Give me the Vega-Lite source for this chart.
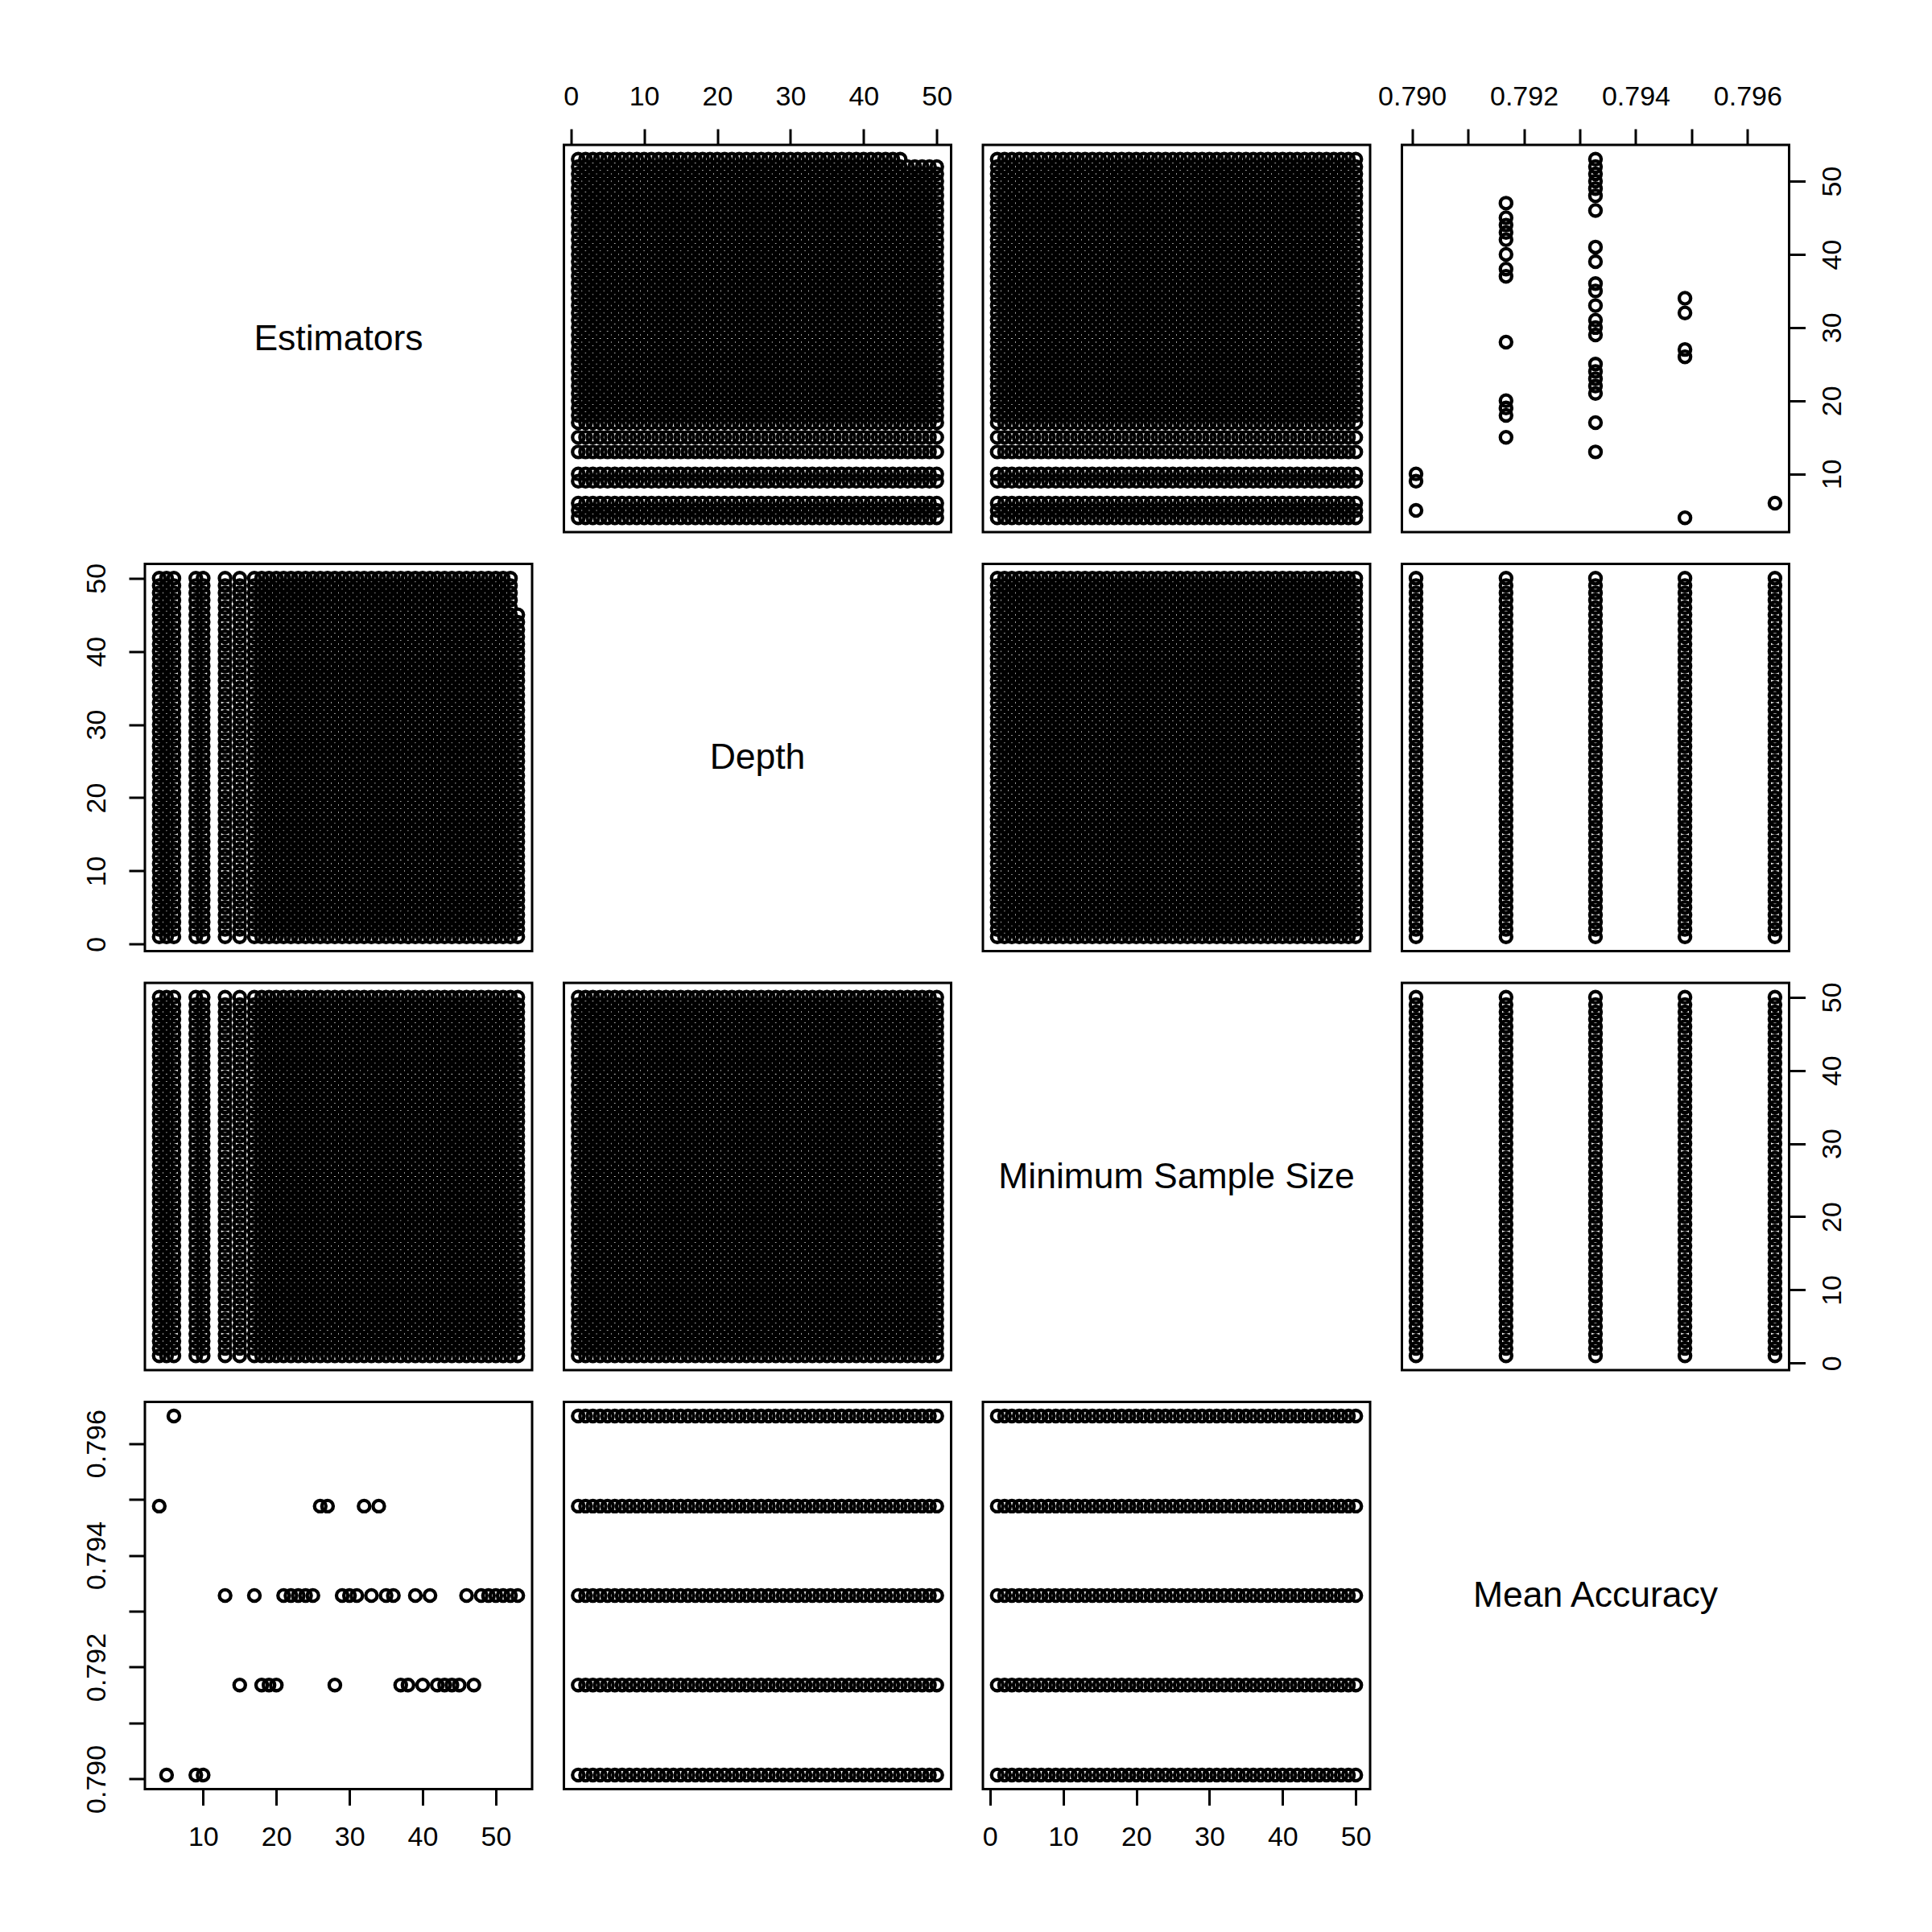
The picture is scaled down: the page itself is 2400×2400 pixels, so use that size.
{
"$schema": "https://vega.github.io/schema/vega-lite/v6.json",
"background": "white",
"padding": {"left": 101, "top": 101, "right": 5, "bottom": 5},
"columns": 4,
"spacing": 39.5,
"bounds": "flush",
"datasets": {
"est": [
{"Estimators":4,"MeanAccuracy":0.79488,"k":1},{"Estimators":5,"MeanAccuracy":0.79007,"k":1},{"Estimators":6,"MeanAccuracy":0.79649,"k":1},{"Estimators":9,"MeanAccuracy":0.79007,"k":1},{"Estimators":10,"MeanAccuracy":0.79007,"k":1},
{"Estimators":13,"MeanAccuracy":0.79328,"k":1},{"Estimators":15,"MeanAccuracy":0.79168,"k":1},{"Estimators":17,"MeanAccuracy":0.79328,"k":1},{"Estimators":18,"MeanAccuracy":0.79168,"k":1},{"Estimators":19,"MeanAccuracy":0.79168,"k":1},
{"Estimators":20,"MeanAccuracy":0.79168,"k":1},{"Estimators":21,"MeanAccuracy":0.79328,"k":1},{"Estimators":22,"MeanAccuracy":0.79328,"k":1},{"Estimators":23,"MeanAccuracy":0.79328,"k":1},{"Estimators":24,"MeanAccuracy":0.79328,"k":1},
{"Estimators":25,"MeanAccuracy":0.79328,"k":1},{"Estimators":26,"MeanAccuracy":0.79488,"k":1},{"Estimators":27,"MeanAccuracy":0.79488,"k":1},{"Estimators":28,"MeanAccuracy":0.79168,"k":1},{"Estimators":29,"MeanAccuracy":0.79328,"k":1},
{"Estimators":30,"MeanAccuracy":0.79328,"k":1},{"Estimators":31,"MeanAccuracy":0.79328,"k":1},{"Estimators":32,"MeanAccuracy":0.79488,"k":1},{"Estimators":33,"MeanAccuracy":0.79328,"k":1},{"Estimators":34,"MeanAccuracy":0.79488,"k":1},
{"Estimators":35,"MeanAccuracy":0.79328,"k":1},{"Estimators":36,"MeanAccuracy":0.79328,"k":1},{"Estimators":37,"MeanAccuracy":0.79168,"k":1},{"Estimators":38,"MeanAccuracy":0.79168,"k":1},{"Estimators":39,"MeanAccuracy":0.79328,"k":1},
{"Estimators":40,"MeanAccuracy":0.79168,"k":1},{"Estimators":41,"MeanAccuracy":0.79328,"k":1},{"Estimators":42,"MeanAccuracy":0.79168,"k":1},{"Estimators":43,"MeanAccuracy":0.79168,"k":1},{"Estimators":44,"MeanAccuracy":0.79168,"k":1},
{"Estimators":45,"MeanAccuracy":0.79168,"k":1},{"Estimators":46,"MeanAccuracy":0.79328,"k":1},{"Estimators":47,"MeanAccuracy":0.79168,"k":1},{"Estimators":48,"MeanAccuracy":0.79328,"k":1},{"Estimators":49,"MeanAccuracy":0.79328,"k":1},
{"Estimators":50,"MeanAccuracy":0.79328,"k":1},{"Estimators":51,"MeanAccuracy":0.79328,"k":1},{"Estimators":52,"MeanAccuracy":0.79328,"k":1},{"Estimators":53,"MeanAccuracy":0.79328,"k":2}
],
"acc": [
{"MeanAccuracy":0.79007,"k":1},{"MeanAccuracy":0.79168,"k":1},{"MeanAccuracy":0.79328,"k":1},{"MeanAccuracy":0.79488,"k":1},{"MeanAccuracy":0.79649,"k":1}
],
"grid": [
{"k":1,"Depth":[1,2,3,4,5,6,7,8,9,10,11,12,13,14,15,16,17,18,19,20,21,22,23,24,25,26,27,28,29,30,31,32,33,34,35,36,37,38,39,40,41,42,43,44,45,46,47,48,49,50],"MinSampleSize":[1,2,3,4,5,6,7,8,9,10,11,12,13,14,15,16,17,18,19,20,21,22,23,24,25,26,27,28,29,30,31,32,33,34,35,36,37,38,39,40,41,42,43,44,45,46,47,48,49,50]},
{"k":2,"Depth":[1,2,3,4,5,6,7,8,9,10,11,12,13,14,15,16,17,18,19,20,21,22,23,24,25,26,27,28,29,30,31,32,33,34,35,36,37,38,39,40,41,42,43,44,45],"MinSampleSize":[1,2,3,4,5,6,7,8,9,10,11,12,13,14,15,16,17,18,19,20,21,22,23,24,25,26,27,28,29,30,31,32,33,34,35,36,37,38,39,40,41,42,43,44,45,46,47,48,49,50]}
]
},
"config": {
"view": {"stroke": "black", "strokeWidth": 3},
"point": {"shape": "circle", "filled": false, "color": "black", "strokeWidth": 4.3, "size": 200, "opacity": 1},
"text": {"font": "Liberation Sans", "fontSize": 44.5, "color": "black", "dy": 1},
"axis": {"domain": false, "grid": false, "ticks": true, "tickColor": "black", "tickWidth": 3, "tickSize": 20, "labelFont": "Liberation Sans", "labelFontSize": 34, "labelColor": "black", "labelFlush": false, "labelOverlap": false},
"axisTop": {"labelPadding": 23},
"axisBottom": {"labelPadding": 23},
"axisLeft": {"labelAngle": 270, "labelAlign": "center", "labelBaseline": "bottom", "labelPadding": 23},
"axisRight": {"labelAngle": 270, "labelAlign": "center", "labelBaseline": "top", "labelPadding": 17}
},
"concat": [
{"width": 481, "height": 481, "data": {"values": [{"label": "Estimators"}]}, "mark": "text", "encoding": {"text": {"field": "label"}}},
{"width": 481, "height": 481, "data": {"name": "est"},
 "transform": [{"lookup": "k", "from": {"data": {"name": "grid"}, "key": "k", "fields": ["Depth"]}}, {"flatten": ["Depth"]}],
 "mark": "point",
 "encoding": {
  "x": {"field": "Depth", "type": "quantitative", "title": null, "scale": {"domain": [-0.96, 51.96], "nice": false, "zero": false}, "axis": {"orient": "top", "values": [0,10,20,30,40,50]}},
  "y": {"field": "Estimators", "type": "quantitative", "title": null, "scale": {"domain": [2.04, 54.96], "nice": false, "zero": false}, "axis": null}}},
{"width": 481, "height": 481, "data": {"name": "est"},
 "transform": [{"lookup": "k", "from": {"data": {"name": "grid"}, "key": "k", "fields": ["MinSampleSize"]}}, {"flatten": ["MinSampleSize"]}],
 "mark": "point",
 "encoding": {
  "x": {"field": "MinSampleSize", "type": "quantitative", "title": null, "scale": {"domain": [-0.96, 51.96], "nice": false, "zero": false}, "axis": null},
  "y": {"field": "Estimators", "type": "quantitative", "title": null, "scale": {"domain": [2.04, 54.96], "nice": false, "zero": false}, "axis": null}}},
{"width": 481, "height": 481, "data": {"name": "est"},
 "mark": "point",
 "encoding": {
  "x": {"field": "MeanAccuracy", "type": "quantitative", "title": null, "scale": {"domain": [0.789818, 0.796743], "nice": false, "zero": false}, "axis": {"orient": "top", "values": [0.790,0.791,0.792,0.793,0.794,0.795,0.796], "format": ".3f", "labelExpr": "round(datum.value*1000) % 2 === 0 ? datum.label : ''"}},
  "y": {"field": "Estimators", "type": "quantitative", "title": null, "scale": {"domain": [2.04, 54.96], "nice": false, "zero": false}, "axis": {"orient": "right", "values": [10,20,30,40,50]}}}},

{"width": 481, "height": 481, "data": {"name": "est"},
 "transform": [{"lookup": "k", "from": {"data": {"name": "grid"}, "key": "k", "fields": ["Depth"]}}, {"flatten": ["Depth"]}],
 "mark": "point",
 "encoding": {
  "x": {"field": "Estimators", "type": "quantitative", "title": null, "scale": {"domain": [2.04, 54.96], "nice": false, "zero": false}, "axis": null},
  "y": {"field": "Depth", "type": "quantitative", "title": null, "scale": {"domain": [-0.96, 51.96], "nice": false, "zero": false}, "axis": {"orient": "left", "values": [0,10,20,30,40,50]}}}},
{"width": 481, "height": 481, "data": {"values": [{"label": "Depth"}]}, "mark": "text", "encoding": {"text": {"field": "label"}}},
{"width": 481, "height": 481, "data": {"name": "grid"},
 "transform": [{"filter": "datum.k === 1"}, {"flatten": ["Depth"]}, {"flatten": ["MinSampleSize"]}],
 "mark": "point",
 "encoding": {
  "x": {"field": "MinSampleSize", "type": "quantitative", "title": null, "scale": {"domain": [-0.96, 51.96], "nice": false, "zero": false}, "axis": null},
  "y": {"field": "Depth", "type": "quantitative", "title": null, "scale": {"domain": [-0.96, 51.96], "nice": false, "zero": false}, "axis": null}}},
{"width": 481, "height": 481, "data": {"name": "acc"},
 "transform": [{"lookup": "k", "from": {"data": {"name": "grid"}, "key": "k", "fields": ["Depth"]}}, {"flatten": ["Depth"]}],
 "mark": "point",
 "encoding": {
  "x": {"field": "MeanAccuracy", "type": "quantitative", "title": null, "scale": {"domain": [0.789818, 0.796743], "nice": false, "zero": false}, "axis": null},
  "y": {"field": "Depth", "type": "quantitative", "title": null, "scale": {"domain": [-0.96, 51.96], "nice": false, "zero": false}, "axis": null}}},

{"width": 481, "height": 481, "data": {"name": "est"},
 "transform": [{"lookup": "k", "from": {"data": {"name": "grid"}, "key": "k", "fields": ["MinSampleSize"]}}, {"flatten": ["MinSampleSize"]}],
 "mark": "point",
 "encoding": {
  "x": {"field": "Estimators", "type": "quantitative", "title": null, "scale": {"domain": [2.04, 54.96], "nice": false, "zero": false}, "axis": null},
  "y": {"field": "MinSampleSize", "type": "quantitative", "title": null, "scale": {"domain": [-0.96, 51.96], "nice": false, "zero": false}, "axis": null}}},
{"width": 481, "height": 481, "data": {"name": "grid"},
 "transform": [{"filter": "datum.k === 1"}, {"flatten": ["Depth"]}, {"flatten": ["MinSampleSize"]}],
 "mark": "point",
 "encoding": {
  "x": {"field": "Depth", "type": "quantitative", "title": null, "scale": {"domain": [-0.96, 51.96], "nice": false, "zero": false}, "axis": null},
  "y": {"field": "MinSampleSize", "type": "quantitative", "title": null, "scale": {"domain": [-0.96, 51.96], "nice": false, "zero": false}, "axis": null}}},
{"width": 481, "height": 481, "data": {"values": [{"label": "Minimum Sample Size"}]}, "mark": "text", "encoding": {"text": {"field": "label"}}},
{"width": 481, "height": 481, "data": {"name": "acc"},
 "transform": [{"lookup": "k", "from": {"data": {"name": "grid"}, "key": "k", "fields": ["MinSampleSize"]}}, {"flatten": ["MinSampleSize"]}],
 "mark": "point",
 "encoding": {
  "x": {"field": "MeanAccuracy", "type": "quantitative", "title": null, "scale": {"domain": [0.789818, 0.796743], "nice": false, "zero": false}, "axis": null},
  "y": {"field": "MinSampleSize", "type": "quantitative", "title": null, "scale": {"domain": [-0.96, 51.96], "nice": false, "zero": false}, "axis": {"orient": "right", "values": [0,10,20,30,40,50]}}}},

{"width": 481, "height": 481, "data": {"name": "est"},
 "mark": "point",
 "encoding": {
  "x": {"field": "Estimators", "type": "quantitative", "title": null, "scale": {"domain": [2.04, 54.96], "nice": false, "zero": false}, "axis": {"orient": "bottom", "values": [10,20,30,40,50]}},
  "y": {"field": "MeanAccuracy", "type": "quantitative", "title": null, "scale": {"domain": [0.789818, 0.796743], "nice": false, "zero": false}, "axis": {"orient": "left", "values": [0.790,0.791,0.792,0.793,0.794,0.795,0.796], "format": ".3f", "labelExpr": "round(datum.value*1000) % 2 === 0 ? datum.label : ''"}}}},
{"width": 481, "height": 481, "data": {"name": "acc"},
 "transform": [{"lookup": "k", "from": {"data": {"name": "grid"}, "key": "k", "fields": ["Depth"]}}, {"flatten": ["Depth"]}],
 "mark": "point",
 "encoding": {
  "x": {"field": "Depth", "type": "quantitative", "title": null, "scale": {"domain": [-0.96, 51.96], "nice": false, "zero": false}, "axis": null},
  "y": {"field": "MeanAccuracy", "type": "quantitative", "title": null, "scale": {"domain": [0.789818, 0.796743], "nice": false, "zero": false}, "axis": null}}},
{"width": 481, "height": 481, "data": {"name": "acc"},
 "transform": [{"lookup": "k", "from": {"data": {"name": "grid"}, "key": "k", "fields": ["MinSampleSize"]}}, {"flatten": ["MinSampleSize"]}],
 "mark": "point",
 "encoding": {
  "x": {"field": "MinSampleSize", "type": "quantitative", "title": null, "scale": {"domain": [-0.96, 51.96], "nice": false, "zero": false}, "axis": {"orient": "bottom", "values": [0,10,20,30,40,50]}},
  "y": {"field": "MeanAccuracy", "type": "quantitative", "title": null, "scale": {"domain": [0.789818, 0.796743], "nice": false, "zero": false}, "axis": null}}},
{"width": 481, "height": 481, "data": {"values": [{"label": "Mean Accuracy"}]}, "mark": "text", "encoding": {"text": {"field": "label"}}}
]
}
